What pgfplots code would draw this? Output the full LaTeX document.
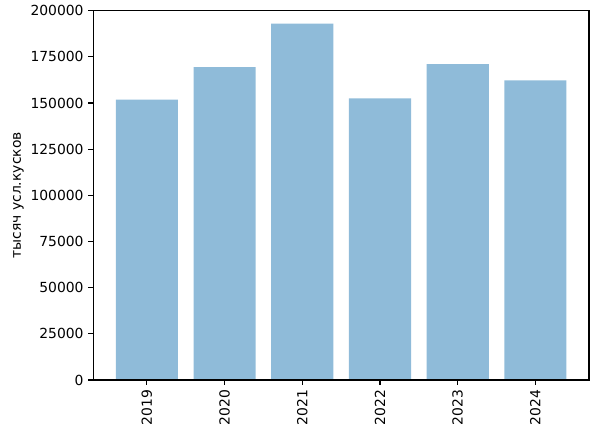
\documentclass[border=0pt]{standalone}
\usepackage{fontspec}
\setmainfont{DejaVu Sans}
\usepackage{pgfplots}
\pgfplotsset{compat=1.18}
\definecolor{barblue}{HTML}{8FBBD9}

\begin{document}
\begin{tikzpicture}
\begin{axis}[
  scale only axis,
  width=357pt,
  height=266pt,
  xmin=-0.69, xmax=5.69,
  ymin=0, ymax=200000,
  xtick={0,1,2,3,4,5},
  xticklabels={2019,2020,2021,2022,2023,2024},
  xticklabel style={rotate=90, anchor=east, font=\fontsize{10}{12}\selectfont},
  ytick={0,25000,50000,75000,100000,125000,150000,175000,200000},
  yticklabel style={font=\fontsize{10}{12}\selectfont},
  yticklabel={\pgfmathprintnumber[fixed, precision=0, 1000 sep={}, assume math mode=true]{\tick}},
  scaled y ticks=false,
  ylabel={тысяч усл.кусков},
  ylabel style={font=\fontsize{10}{12}\selectfont},
  ylabel shift=-2pt,
  axis on top,
  tick align=outside,
  tick pos=left,
  major tick length=3.5pt,
  tick style={black, line width=0.8pt},
  axis line style={line width=0.8pt},
  ybar,
  bar width=0.8,
  bar shift=0pt,
]
\addplot[fill=barblue, draw=none] coordinates {
  (0, 151900)
  (1, 169450)
  (2, 193000)
  (3, 152450)
  (4, 171100)
  (5, 162300)
};
\end{axis}
\path[use as bounding box] ([xshift=-67.2pt, yshift=-39.6pt]current axis.south west) rectangle ([xshift=6.5pt, yshift=7.7pt]current axis.north east);
\end{tikzpicture}
\end{document}
